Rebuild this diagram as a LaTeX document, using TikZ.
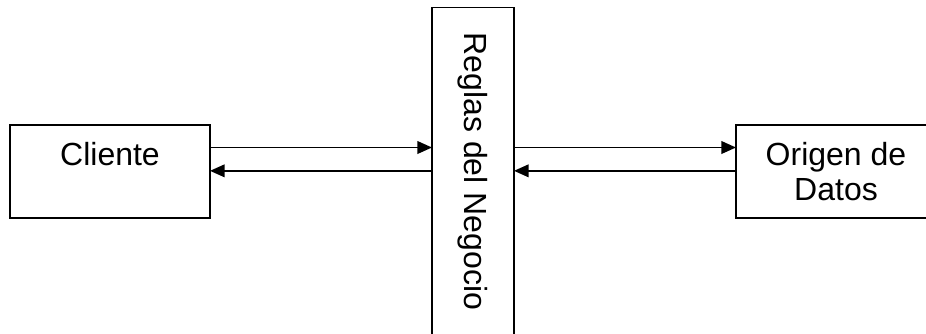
\documentclass[tikz,border=0pt]{standalone}
\usepackage{fontspec}
\setmainfont{Liberation Sans}
\usepackage{graphicx}
\usepackage{tikz}
\usetikzlibrary{arrows.meta}
\tikzstyle{box1} = [rectangle, minimum width=150pt, minimum height=69.75pt, text centered, draw=black, line width=1.3pt, outer sep=0pt, align=center, font=\fontsize{24}{26.5}\selectfont]
\tikzstyle{tallbox} = [box1, minimum width=61.5pt, minimum height=246pt]
\tikzstyle{arrow} = [line width=1.3pt, -{Triangle[length=11pt, width=9.5pt]}]
\usetikzlibrary{positioning}

\begin{document}
\begin{tikzpicture}[x=0.75pt, y=-0.75pt, node distance=166.5pt]
	
	\clip (0,0) rectangle (926,333);
	\node (cliente) [box1] at (110,171.5) {Cliente\\ \phantom{Datos}};
	\node (reglas) [tallbox, right=of cliente] {\rotatebox{-90}{Reglas del Negocio}};
	\node (origen) [box1, right=of reglas] {Origen de\\ Datos};
	
	\draw [arrow] ([yshift=18pt]cliente.east) -- ([yshift=18pt]cliente.east -| reglas.west);
	\draw [arrow] ([yshift=0.5pt]reglas.west) -- ([yshift=0.5pt]reglas.west -| cliente.east);
	\draw [arrow] ([yshift=18pt]reglas.east) -- ([yshift=18pt]reglas.east -| origen.west);
	\draw [arrow] ([yshift=0.5pt]origen.west) -- ([yshift=0.5pt]origen.west -| reglas.east);
	\end{tikzpicture}
\end{document}
